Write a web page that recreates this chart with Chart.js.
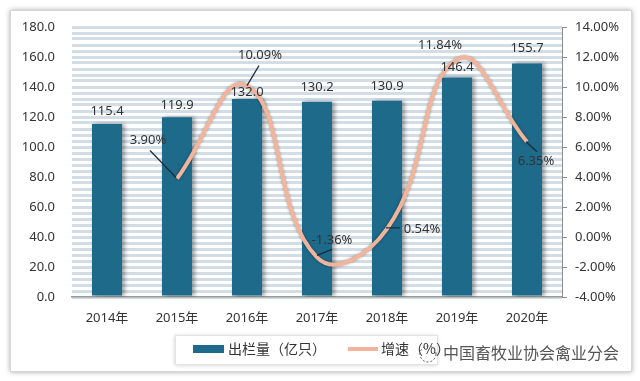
<!DOCTYPE html>
<html><head><meta charset="utf-8">
<script src="https://cdn.jsdelivr.net/npm/chart.js@4/dist/chart.umd.min.js"></script>
<style>html,body{margin:0;padding:0;background:#fff;}canvas{display:block;}</style>
</head><body>
<canvas id="c" width="640" height="381"></canvas>
<script>
// ---- data ----
const categories = ['2014年','2015年','2016年','2017年','2018年','2019年','2020年'];
const stock = [115.4, 119.9, 132.0, 130.2, 130.9, 146.4, 155.7];   // 出栏量（亿只）
const growth = [null, 3.90, 10.09, -1.36, 0.54, 11.84, 6.35];       // 增速（%）
const seriesNames = ['出栏量（亿只）', '增速（%）'];
const leftAxisRange = [0, 180];
const leftLabelStep = 20;
const rightAxisRange = [-4, 14];
const rightLabelStep = 2;
const watermarkText = '中国畜牧业协会禽业分会';

// ---- styles ----
const FONT = "'Noto Sans', 'Noto Sans CJK SC', sans-serif";
const CJK = "'Noto Sans CJK SC', sans-serif";
const BAR_COLOR = '#1d6a8b';
const LINE_COLOR = '#f2b59b';
const TEXT = '#333333';
const barLabelGap = [13, 12, 7, 14, 14, 10, 15];
const lineLabelLayout = [
  null,
  {dx: -29, dy: -38, lead: [-1, -1, -27, -28]},
  {dx: 13, dy: -30, lead: [0, 0, 12, -20]},
  {dx: 15, dy: -17, lead: [0, -2, 15, -8]},
  {dx: 35, dy: 0, lead: [-1, -1, 13, -1]},
  {dx: -17, dy: -14, lead: null},
  {dx: 9, dy: 20, lead: [-1, 0, 10, 10]}
];

const framePlugin = {
  id: 'frame',
  beforeDraw(chart) {
    const ctx = chart.ctx;
    ctx.save();
    ctx.fillStyle = '#fff';
    ctx.fillRect(0, 0, chart.width, chart.height);
    ctx.shadowColor = 'rgba(0,0,0,0.35)';
    ctx.shadowBlur = 5;
    ctx.fillRect(10, 10, 622, 362);
    ctx.restore();
    ctx.save();
    ctx.strokeStyle = '#d6d6d6';
    ctx.lineWidth = 1;
    ctx.strokeRect(10.5, 10.5, 621, 361);
    ctx.restore();
  }
};

const shadowPlugin = {
  id: 'shadows',
  beforeDatasetDraw(chart, args) {
    const ctx = chart.ctx;
    ctx.save();
    if (args.meta.type === 'bar') {
      ctx.shadowColor = 'rgba(0,0,0,0.35)';
      ctx.shadowBlur = 4;
      ctx.shadowOffsetX = 3;
      ctx.shadowOffsetY = 0;
    } else {
      ctx.shadowColor = 'rgba(0,0,0,0.35)';
      ctx.shadowBlur = 3;
    }
  },
  afterDatasetDraw(chart) {
    chart.ctx.restore();
  }
};

const labelPlugin = {
  id: 'labels',
  afterDatasetsDraw(chart) {
    const ctx = chart.ctx;
    ctx.save();
    ctx.font = '13px ' + FONT;
    ctx.fillStyle = TEXT;
    ctx.textAlign = 'center';
    ctx.textBaseline = 'middle';
    const barMeta = chart.getDatasetMeta(0);
    barMeta.data.forEach((el, i) => {
      ctx.fillText(stock[i].toFixed(1), el.x, el.y - barLabelGap[i]);
    });
    const lineMeta = chart.getDatasetMeta(1);
    lineMeta.data.forEach((pt, i) => {
      const lay = lineLabelLayout[i];
      if (growth[i] === null || !lay) return;
      if (lay.lead) {
        ctx.beginPath();
        ctx.strokeStyle = '#1b2a38';
        ctx.lineWidth = 1.2;
        ctx.moveTo(pt.x + lay.lead[0], pt.y + lay.lead[1]);
        ctx.lineTo(pt.x + lay.lead[2], pt.y + lay.lead[3]);
        ctx.stroke();
      }
      ctx.fillStyle = TEXT;
      ctx.fillText(growth[i].toFixed(2) + '%', pt.x + lay.dx, pt.y + lay.dy);
    });
    ctx.restore();
  }
};

const legendPlugin = {
  id: 'customLegend',
  afterDraw(chart) {
    const ctx = chart.ctx;
    ctx.save();
    ctx.shadowColor = 'rgba(0,0,0,0.22)';
    ctx.shadowBlur = 4;
    ctx.shadowOffsetY = 1;
    ctx.fillStyle = '#fff';
    ctx.fillRect(175, 335, 262, 29);
    ctx.restore();
    ctx.save();
    ctx.strokeStyle = '#e4e4e4';
    ctx.strokeRect(175.5, 335.5, 262, 29);
    // bar swatch
    ctx.fillStyle = chart.data.datasets[0].backgroundColor;
    ctx.fillRect(193, 345, 31, 8);
    ctx.font = '14px ' + CJK;
    ctx.fillStyle = TEXT;
    ctx.textAlign = 'left';
    ctx.textBaseline = 'middle';
    ctx.fillText(chart.data.datasets[0].label, 228, 349);
    // line swatch
    ctx.beginPath();
    ctx.strokeStyle = chart.data.datasets[1].borderColor;
    ctx.lineWidth = 4;
    ctx.moveTo(348, 349);
    ctx.lineTo(378, 349);
    ctx.stroke();
    ctx.fillText(chart.data.datasets[1].label, 381, 349);
    // watermark
    ctx.beginPath();
    ctx.setLineDash([2, 2]);
    ctx.strokeStyle = '#555';
    ctx.lineWidth = 1;
    ctx.arc(428, 354, 8, 0, Math.PI * 2);
    ctx.stroke();
    ctx.setLineDash([]);
    ctx.font = '16px ' + CJK;
    ctx.fillStyle = '#555';
    ctx.strokeStyle = 'rgba(255,255,255,0.9)';
    ctx.lineWidth = 3;
    ctx.strokeText(watermarkText, 443, 353);
    ctx.fillText(watermarkText, 443, 353);
    ctx.restore();
  }
};

new Chart(document.getElementById('c'), {
  data: {
    labels: categories,
    datasets: [
      {
        type: 'bar',
        label: seriesNames[0],
        data: stock,
        backgroundColor: BAR_COLOR,
        barPercentage: 0.43,
        categoryPercentage: 1,
        yAxisID: 'y',
        order: 1
      },
      {
        type: 'line',
        label: seriesNames[1],
        data: growth,
        borderColor: LINE_COLOR,
        borderWidth: 4,
        tension: 0.45,
        pointRadius: 0,
        fill: false,
        yAxisID: 'y1',
        order: 0
      }
    ]
  },
  options: {
    responsive: false,
    animation: false,
    devicePixelRatio: 1,
    layout: {padding: {left: 0, right: 0, top: 27, bottom: 0}},
    plugins: {legend: {display: false}, tooltip: {enabled: false}, title: {display: false}},
    scales: {
      x: {
        grid: {display: false, drawTicks: false},
        border: {display: true, color: '#9a9a9a', width: 1.5},
        ticks: {font: {size: 13, family: FONT}, color: TEXT, padding: 13},
        afterFit(s) { s.height = 84; }
      },
      y: {
        position: 'left',
        min: leftAxisRange[0], max: leftAxisRange[1],
        grid: {color: '#d2dde5', lineWidth: 3, drawTicks: false},
        border: {display: false},
        ticks: {
          stepSize: 4, autoSkip: false,
          font: {size: 13, family: FONT}, color: TEXT, padding: 17,
          callback: v => (v % leftLabelStep === 0 ? v.toFixed(1) : '')
        },
        afterFit(s) { s.width = 72; }
      },
      y1: {
        position: 'right',
        min: rightAxisRange[0], max: rightAxisRange[1],
        grid: {drawOnChartArea: false, drawTicks: true, tickLength: 5, tickColor: '#8c8c8c', tickWidth: 1},
        border: {display: true, color: '#8c8c8c', width: 1},
        ticks: {
          stepSize: rightLabelStep,
          font: {size: 13, family: FONT}, color: TEXT, padding: 8,
          callback: v => v.toFixed(2) + '%'
        },
        afterFit(s) { s.width = 78; }
      }
    }
  },
  plugins: [framePlugin, shadowPlugin, labelPlugin, legendPlugin]
});
</script>
</body></html>
